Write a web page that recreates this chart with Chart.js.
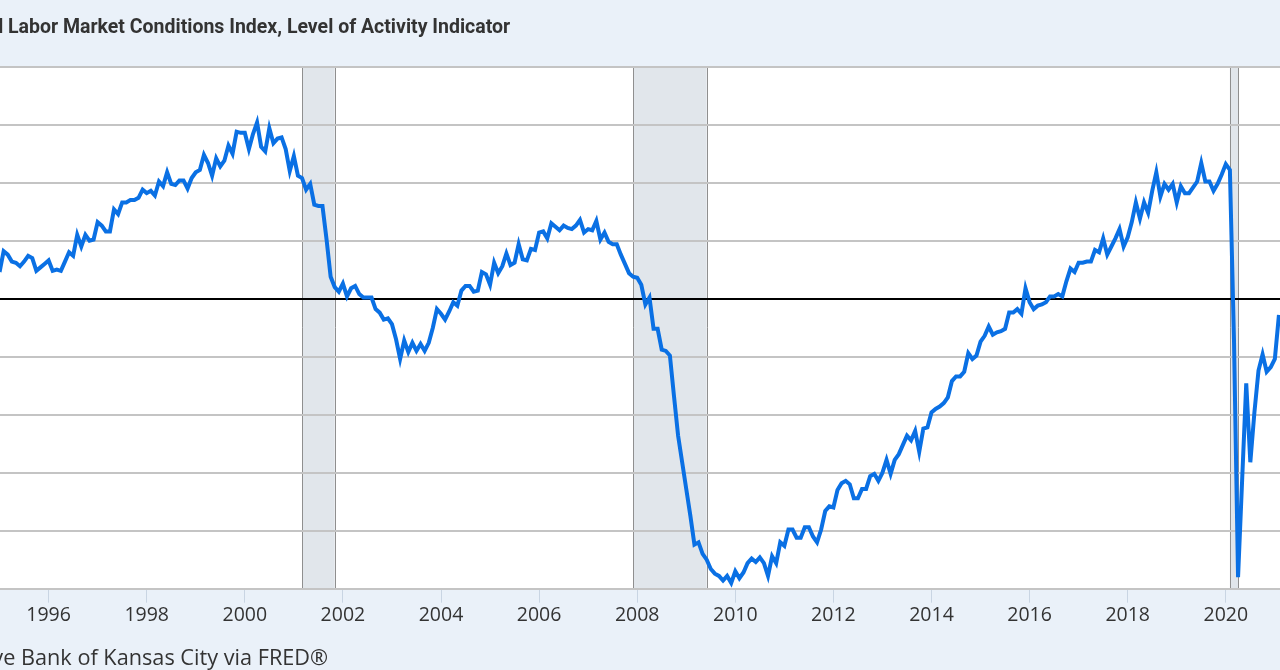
<!DOCTYPE html>
<html>
<head>
<meta charset="utf-8">
<script src="https://cdn.jsdelivr.net/npm/chart.js@4/dist/chart.umd.min.js"></script>
<style>
  html, body { margin: 0; padding: 0; width: 1280px; height: 670px; overflow: hidden; background: #eaf1f9; }
  #wrap { position: absolute; left: 0; top: 0; width: 1280px; height: 670px; }
  #title { position: absolute; top: 15px; white-space: nowrap; font: bold 19.5px Roboto; color: #333; }
  #source { position: absolute; top: 642px; white-space: nowrap; font: 21.7px "Open Sans"; color: #333; }
</style>
</head>
<body>
<div id="wrap"><canvas id="chart"></canvas></div>
<div id="title">KC Fed Labor Market Conditions Index, Level of Activity Indicator</div>
<div id="source">Source: Federal Reserve Bank of Kansas City via FRED®</div>
<script>
// monthly series, first value is Jan 1995
const startYear = 1995;
const lmci = [
  0.23, 0.41, 0.38, 0.32, 0.31, 0.28, 0.32, 0.37, 0.35, 0.24, 0.27, 0.30,           // 1995
  0.33, 0.24, 0.25, 0.24, 0.32, 0.40, 0.37, 0.55, 0.45, 0.55, 0.50, 0.51,           // 1996
  0.66, 0.63, 0.58, 0.58, 0.77, 0.73, 0.83, 0.83, 0.85, 0.85, 0.87, 0.94,           // 1997
  0.91, 0.93, 0.89, 1.01, 0.97, 1.09, 0.99, 0.98, 1.02, 1.02, 0.95, 1.04,           // 1998
  1.09, 1.11, 1.24, 1.17, 1.06, 1.21, 1.14, 1.19, 1.32, 1.25, 1.44, 1.43,           // 1999
  1.43, 1.29, 1.42, 1.52, 1.31, 1.27, 1.47, 1.34, 1.38, 1.39, 1.29, 1.10,           // 2000
  1.23, 1.06, 1.04, 0.94, 0.99, 0.81, 0.80, 0.80, 0.51, 0.19, 0.10, 0.06,           // 2001
  0.13, 0.02, 0.09, 0.11, 0.04, 0.01, 0.01, 0.01, -0.09, -0.12, -0.18, -0.17,       // 2002
  -0.22, -0.35, -0.52, -0.36, -0.46, -0.38, -0.45, -0.39, -0.45, -0.38, -0.25, -0.09, // 2003
  -0.13, -0.18, -0.11, -0.03, -0.06, 0.07, 0.11, 0.11, 0.06, 0.07, 0.23, 0.21,      // 2004
  0.12, 0.31, 0.22, 0.28, 0.39, 0.29, 0.31, 0.47, 0.34, 0.33, 0.43, 0.42,           // 2005
  0.57, 0.58, 0.52, 0.65, 0.62, 0.59, 0.63, 0.61, 0.60, 0.63, 0.68, 0.57,           // 2006
  0.60, 0.59, 0.67, 0.51, 0.57, 0.49, 0.47, 0.47, 0.38, 0.30, 0.22, 0.19,           // 2007
  0.18, 0.12, -0.05, 0.01, -0.26, -0.26, -0.44, -0.45, -0.49, -0.84, -1.18, -1.41,  // 2008
  -1.64, -1.87, -2.12, -2.10, -2.20, -2.25, -2.33, -2.37, -2.39, -2.43, -2.39, -2.45, // 2009
  -2.35, -2.41, -2.36, -2.28, -2.24, -2.27, -2.23, -2.28, -2.39, -2.22, -2.28, -2.10, // 2010
  -2.13, -1.99, -1.99, -2.06, -2.06, -1.97, -1.97, -2.05, -2.10, -1.99, -1.83, -1.79, // 2011
  -1.80, -1.65, -1.59, -1.57, -1.60, -1.72, -1.72, -1.64, -1.64, -1.53, -1.51, -1.57, // 2012
  -1.50, -1.39, -1.51, -1.39, -1.34, -1.26, -1.18, -1.22, -1.14, -1.32, -1.12, -1.11, // 2013
  -0.98, -0.95, -0.93, -0.90, -0.85, -0.71, -0.67, -0.67, -0.63, -0.47, -0.52, -0.49, // 2014
  -0.37, -0.32, -0.24, -0.31, -0.29, -0.28, -0.26, -0.12, -0.12, -0.09, -0.13, 0.09,  // 2015
  -0.03, -0.09, -0.06, -0.05, -0.03, 0.02, 0.02, 0.04, 0.02, 0.15, 0.26, 0.23,      // 2016
  0.31, 0.31, 0.32, 0.32, 0.42, 0.40, 0.52, 0.38, 0.45, 0.52, 0.60, 0.45,           // 2017
  0.53, 0.66, 0.83, 0.69, 0.83, 0.74, 0.93, 1.09, 0.88, 0.99, 0.94, 0.99,           // 2018
  0.83, 0.97, 0.91, 0.91, 0.96, 1.01, 1.17, 1.01, 1.01, 0.93, 0.99, 1.07,           // 2019
  1.16, 1.11, -0.35, -2.40, -1.56, -0.73, -1.41, -0.98, -0.62, -0.48, -0.63, -0.59, // 2020
  -0.52, -0.14                                                                        // 2021
];

const tickYears = [1996, 1998, 2000, 2002, 2004, 2006, 2008, 2010, 2012, 2014, 2016, 2018, 2020];

// recessions as decimal years (month start)
const recStart = [2001 + 2 / 12, 2007 + 11 / 12, 2020 + 1 / 12];
const recEnd   = [2001 + 10 / 12, 2009 + 5 / 12, 2020 + 3 / 12];

const xMin = 1995.009, xMax = 2021.105;
const yMin = -2.5, yMax = 2.0, yStep = 0.5;

// shift cropped title / source so the visible part lines up
function placeCropped(id, prefix, targetX) {
  const el = document.getElementById(id);
  const cs = getComputedStyle(el);
  const m = document.createElement('canvas').getContext('2d');
  m.font = cs.fontWeight + ' ' + cs.fontSize + ' ' + cs.fontFamily;
  el.style.left = (targetX - m.measureText(prefix).width) + 'px';
}
placeCropped('title', 'KC Fed ', 8);
placeCropped('source', 'Source: Federal Reserve ', 21);

const recessionBands = {
  id: 'recessionBands',
  beforeDraw(chart) {
    const { ctx, chartArea: a, scales: { x } } = chart;
    ctx.save();
    ctx.fillStyle = '#ffffff';
    ctx.fillRect(a.left, a.top, a.width, a.height);
    recStart.forEach((s, i) => {
      const x0 = x.getPixelForValue(s);
      const x1 = x.getPixelForValue(recEnd[i]);
      ctx.fillStyle = '#e1e6eb';
      ctx.fillRect(x0, a.top, x1 - x0, a.height);
      ctx.strokeStyle = '#8f8f8f';
      ctx.lineWidth = 1;
      [x0, x1].forEach(px => {
        ctx.beginPath();
        ctx.moveTo(Math.round(px) + 0.5, a.top);
        ctx.lineTo(Math.round(px) + 0.5, a.bottom);
        ctx.stroke();
      });
    });
    ctx.restore();
  }
};

const ctx = document.getElementById('chart').getContext('2d');
new Chart(ctx, {
  type: 'line',
  data: {
    datasets: [{
      data: lmci.map((v, i) => ({ x: startYear + i / 12, y: v })),
      borderColor: '#0a70e4',
      borderWidth: 4,
      pointRadius: 0,
      tension: 0,
      fill: false
    }]
  },
  options: {
    responsive: true,
    maintainAspectRatio: false,
    animation: false,
    layout: { padding: { top: 66.7, left: 0, right: 0, bottom: 0 } },
    plugins: { legend: { display: false }, tooltip: { enabled: false } },
    scales: {
      x: {
        type: 'linear',
        min: xMin,
        max: xMax,
        afterBuildTicks: s => { s.ticks = tickYears.map(v => ({ value: v })); },
        afterFit: s => { s.height = 81.3; },
        ticks: {
          callback: v => String(v),
          font: { family: 'Open Sans', size: 19.5 },
          color: '#333',
          padding: 1,
          maxRotation: 0,
          autoSkip: false
        },
        grid: { drawOnChartArea: false, drawTicks: true, tickLength: 14, color: '#c9d5e3', lineWidth: 1 },
        border: { display: false }
      },
      y: {
        min: yMin,
        max: yMax,
        afterFit: s => { s.width = 0; },
        ticks: { display: false, stepSize: yStep },
        grid: {
          drawTicks: false,
          lineWidth: 2,
          color: c => (c.tick && c.tick.value === 0 ? '#000000' : '#c4c4c4')
        },
        border: { display: false }
      }
    }
  },
  plugins: [recessionBands]
});
</script>
</body>
</html>
